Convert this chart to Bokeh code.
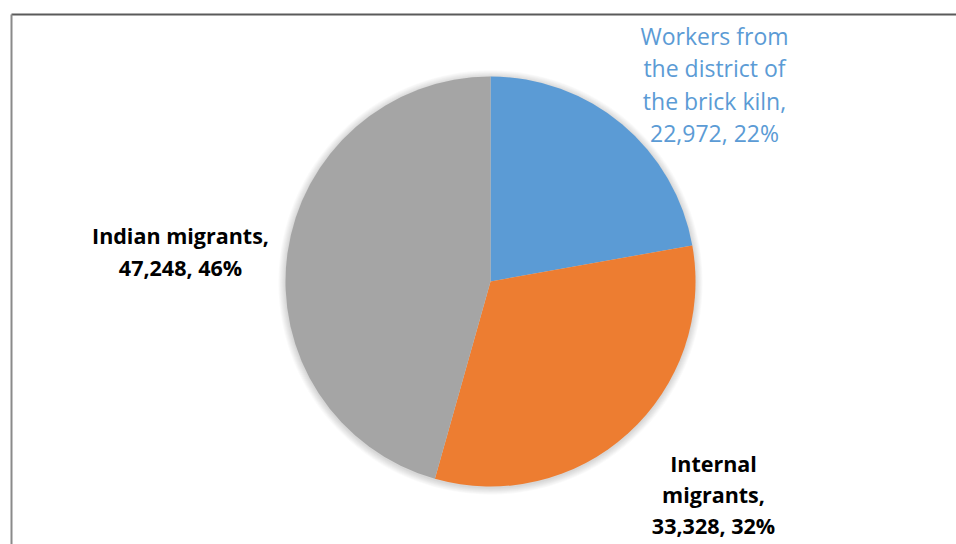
import math
from bokeh.plotting import figure
from bokeh.models import Range1d, ColumnDataSource
from bokeh.core.properties import value
from bokeh.embed import file_html
from bokeh.resources import INLINE

# ---- data ----
categories = ["Workers from\nthe district of\nthe brick kiln", "Internal\nmigrants", "Indian migrants"]
counts = [22972, 33328, 47248]
percents = ["22%", "32%", "46%"]
colors = ["#5B9BD5", "#ED7D31", "#A5A5A5"]

# ---- layout constants (pixels) ----
W, H = 956, 544
cx, cy_px, R = 490, 281, 205
cy = H - cy_px

p = figure(width=W, height=H, x_range=Range1d(0, W), y_range=Range1d(0, H),
           output_backend="svg", toolbar_location=None, min_border=0)
p.axis.visible = False
p.grid.visible = False
p.outline_line_color = None
p.background_fill_color = "white"

# chart frame (top and left edges visible)
p.segment(x0=[11, 11], y0=[H - 14, H - 14], x1=[W + 5, 11], y1=[H - 14, -5],
          line_color=["#5a5a5a", "#8a8a8a"], line_width=[2, 2])

# soft shadow
for k in range(1, 9):
    p.circle(x=[cx], y=[cy - 1], radius=R + k * 0.9, fill_color="black",
             fill_alpha=0.018, line_color=None)

total = sum(counts)
starts, ends = [], []
a = math.pi / 2
for c in counts:
    sweep = 2 * math.pi * c / total
    starts.append(a)
    ends.append(a - sweep)
    a -= sweep

src = ColumnDataSource(dict(start=starts, end=ends, color=colors))
p.wedge(x=cx, y=cy, radius=R, start_angle="start", end_angle="end",
        direction="clock", fill_color="color", line_color=None, source=src)

labels = [f"{cat}, {cnt:,}, {pc}" for cat, cnt, pc in zip(categories, counts, percents)]
# wrap text as in reference
labels[0] = labels[0].replace("kiln, ", "kiln,\n")
labels[1] = labels[1].replace("migrants, ", "migrants,\n")
labels[2] = labels[2].replace("migrants, ", "migrants,\n")

label_x = [714, 713, 180]
label_y_px = [84, 494, 251]
label_color = ["#5B9BD5", "black", "black"]
label_style = ["normal", "bold", "bold"]
label_size = ["23px", "21.5px", "21.5px"]
label_lh = [1.01, 1.08, 1.08]

for t, x, ypx, col, st, fs, lh in zip(labels, label_x, label_y_px, label_color,
                                      label_style, label_size, label_lh):
    p.text(x=[x], y=[H - ypx], text=[t], text_align="center", text_baseline="middle",
           text_font=value("Open Sans"), text_font_size=fs, text_font_style=st,
           text_color=col, text_line_height=lh)

open("out.html", "w").write(file_html(p, INLINE))
